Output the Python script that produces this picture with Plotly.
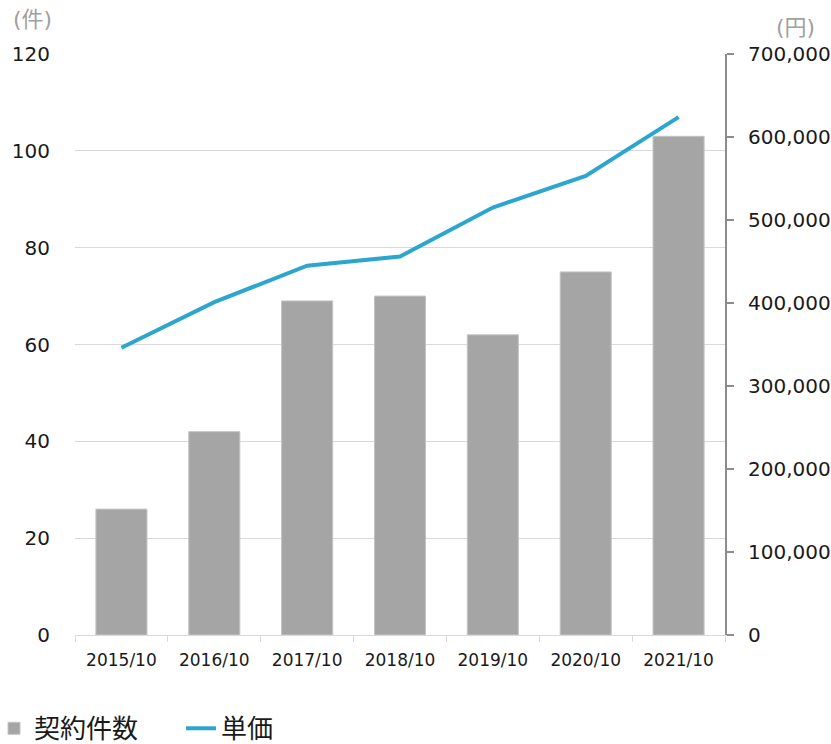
import plotly.graph_objects as go

# Fiscal periods
periods = ["2015/10", "2016/10", "2017/10", "2018/10", "2019/10", "2020/10", "2021/10"]
# Number of contracts (left axis, 件)
contracts = [26, 42, 69, 70, 62, 75, 103]
# Unit price (right axis, 円)
unit_price = [346000, 401000, 445000, 456000, 515000, 553000, 624000]

left_ticks = [0, 20, 40, 60, 80, 100, 120]
right_ticks = [0, 100000, 200000, 300000, 400000, 500000, 600000, 700000]

BAR_COLOR = "#a5a5a5"
LINE_COLOR = "#2ca6cc"
GRID = "#d9d9d9"
FONT = "DejaVu Sans, Noto Sans CJK JP, sans-serif"

fig = go.Figure()

fig.add_trace(go.Bar(
    x=periods, y=contracts, name="契約件数",
    marker=dict(color=BAR_COLOR, line=dict(color="#c4c4c4", width=1)),
    width=0.55, yaxis="y",
))

fig.add_trace(go.Scatter(
    x=periods, y=unit_price, name="単価", mode="lines",
    line=dict(color=LINE_COLOR, width=4), yaxis="y2",
))

fig.update_layout(
    width=831, height=744,
    margin=dict(l=75, r=106, t=54, b=109),
    paper_bgcolor="white", plot_bgcolor="white",
    font=dict(family=FONT, color="#1a1a1a"),
    showlegend=True,
    legend=dict(
        orientation="h", xref="container", yref="container",
        x=0, xanchor="left", y=0.021, yanchor="middle",
        indentation=-6,
        font=dict(size=26, color="#1a1a1a", family="Noto Sans CJK JP, sans-serif"),
        entrywidth=148, entrywidthmode="pixels",
        bgcolor="rgba(0,0,0,0)",
    ),
    xaxis=dict(
        type="category", showline=True, linecolor=GRID, linewidth=1,
        ticks="outside", tickson="boundaries", ticklen=6, tickcolor=GRID,
        tickfont=dict(size=17, color="#1a1a1a"), showgrid=False,
        ticklabelstandoff=10, automargin=False,
    ),
    yaxis=dict(
        range=[0, 120], tickvals=left_ticks, showgrid=True, gridcolor=GRID,
        zeroline=False, showline=False, ticks="",
        tickfont=dict(size=20, color="#1a1a1a"), ticklabelstandoff=24,
        automargin=False,
    ),
    yaxis2=dict(
        range=[0, 700000], tickvals=right_ticks, tickformat=",d",
        overlaying="y", side="right", showgrid=False, zeroline=False,
        showline=True, linecolor="#8c8c8c", linewidth=2,
        ticks="outside", ticklen=7, tickcolor="#8c8c8c", tickwidth=2,
        tickfont=dict(size=20, color="#1a1a1a"), ticklabelstandoff=10,
        automargin=False,
    ),
    annotations=[
        dict(text="(件)", xref="paper", yref="paper", x=-0.066, y=1.060,
             xanchor="center", yanchor="middle", showarrow=False,
             font=dict(size=22, color="#a0a0a0")),
        dict(text="(円)", xref="paper", yref="paper", x=1.108, y=1.046,
             xanchor="center", yanchor="middle", showarrow=False,
             font=dict(size=22, color="#a0a0a0")),
    ],
)

fig.write_html("out.html")
